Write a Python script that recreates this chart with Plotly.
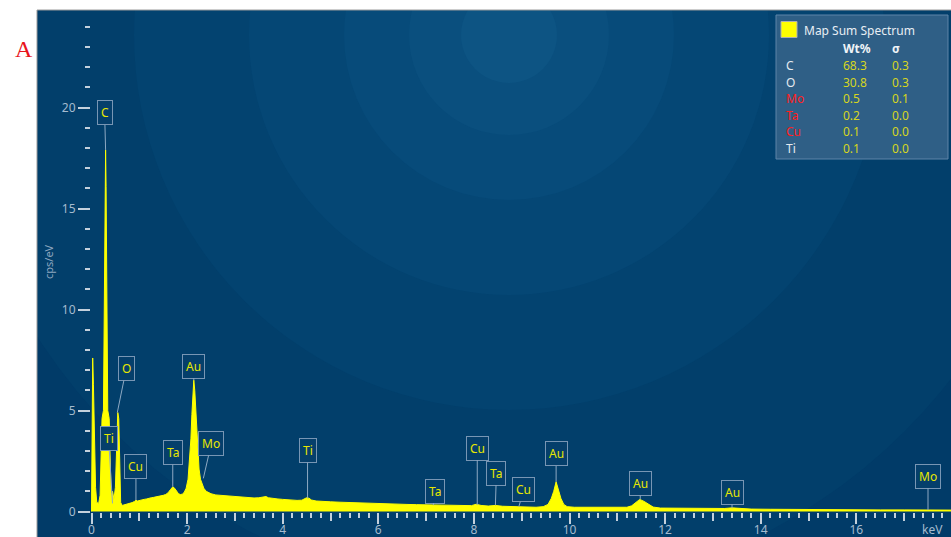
import plotly.graph_objects as go

# ---------------- data ----------------
energy_kev = [
    0.00, 0.01, 0.025, 0.04, 0.06, 0.085, 0.11, 0.15, 0.18, 0.20, 0.22, 0.25,
    0.27, 0.285, 0.295, 0.305, 0.32, 0.34, 0.37, 0.39, 0.41, 0.44, 0.47, 0.50,
    0.53, 0.55, 0.57, 0.59, 0.61, 0.64, 0.68, 0.75, 0.80, 0.85, 0.90, 0.93,
    0.96, 1.00, 1.05, 1.10, 1.15, 1.20, 1.25, 1.30, 1.35, 1.40, 1.45, 1.50,
    1.55, 1.60, 1.65, 1.70, 1.74, 1.78, 1.82, 1.86, 1.90, 1.94, 1.98, 2.02,
    2.05, 2.08, 2.10, 2.12, 2.14, 2.16, 2.18, 2.20, 2.22, 2.25, 2.28, 2.31,
    2.35, 2.40, 2.45, 2.50, 2.60, 2.70, 2.80, 2.90, 3.00, 3.10, 3.20, 3.30,
    3.40, 3.50, 3.60, 3.65, 3.70, 3.80, 3.90, 4.00, 4.10, 4.20, 4.30, 4.40,
    4.45, 4.50, 4.55, 4.60, 4.70, 4.80, 5.00, 5.20, 5.40, 5.60, 5.80, 6.00,
    6.20, 6.40, 6.60, 6.80, 7.00, 7.20, 7.40, 7.60, 7.80, 7.95, 8.05, 8.15,
    8.30, 8.45, 8.60, 8.80, 8.95, 9.10, 9.30, 9.45, 9.55, 9.62, 9.67, 9.72,
    9.77, 9.82, 9.88, 9.95, 10.10, 10.40, 10.70, 11.00, 11.20, 11.30, 11.38,
    11.47, 11.56, 11.65, 11.75, 11.90, 12.20, 12.60, 13.00, 13.25, 13.40,
    13.55, 13.80, 14.20, 14.60, 15.00, 15.50, 16.00, 16.50, 17.00, 17.40,
    17.50, 17.60, 18.00,
]
counts_cps = [
    0.00, 3.50, 7.60, 6.30, 3.50, 1.20, 0.45, 0.40, 0.80, 3.00, 4.60, 5.00,
    11.80, 16.10, 17.90, 16.10, 11.80, 5.00, 4.60, 2.50, 0.80, 1.00, 0.60, 1.20,
    3.00, 4.90, 4.60, 1.50, 0.45, 0.30, 0.32, 0.36, 0.40, 0.44, 0.50, 0.56,
    0.52, 0.55, 0.58, 0.60, 0.62, 0.66, 0.68, 0.70, 0.72, 0.75, 0.78, 0.80,
    0.84, 0.92, 1.08, 1.22, 1.15, 1.00, 0.88, 0.84, 0.86, 0.95, 1.15, 1.60,
    2.50, 3.60, 4.80, 5.90, 6.50, 6.00, 5.00, 3.90, 3.00, 2.10, 1.60, 1.35,
    1.15, 1.00, 0.92, 0.88, 0.82, 0.80, 0.76, 0.75, 0.72, 0.70, 0.70, 0.68,
    0.67, 0.68, 0.72, 0.74, 0.68, 0.64, 0.62, 0.60, 0.58, 0.57, 0.55, 0.56,
    0.62, 0.68, 0.66, 0.57, 0.52, 0.50, 0.48, 0.46, 0.44, 0.42, 0.41, 0.40,
    0.38, 0.37, 0.35, 0.34, 0.33, 0.32, 0.31, 0.30, 0.29, 0.29, 0.36, 0.30,
    0.27, 0.30, 0.26, 0.24, 0.26, 0.22, 0.21, 0.24, 0.35, 0.65, 1.00, 1.47,
    1.10, 0.65, 0.35, 0.24, 0.21, 0.20, 0.19, 0.19, 0.21, 0.28, 0.42,
    0.60, 0.50, 0.35, 0.22, 0.17, 0.16, 0.15, 0.14, 0.15, 0.18,
    0.15, 0.12, 0.11, 0.10, 0.10, 0.09, 0.09, 0.08, 0.08, 0.08,
    0.10, 0.08, 0.07,
]

peak_elements = ["C", "O", "Ti", "Cu", "Ta", "Au", "Mo", "Ti", "Ta", "Cu",
                 "Ta", "Cu", "Au", "Au", "Au", "Mo"]
peak_energy = [0.295, 0.54, 0.44, 0.93, 1.70, 2.14, 2.34, 4.52, 7.15, 8.07,
               8.45, 8.94, 9.72, 11.48, 13.40, 17.50]
peak_tip = [17.9, 4.9, 0.4, 0.57, 1.23, 6.5, 1.64, 0.65, 0.32, 0.32,
            0.32, 0.24, 1.47, 0.60, 0.16, 0.07]

x_major_ticks = [0, 2, 4, 6, 8, 10, 12, 14, 16]
x_mid_ticks = [1, 3, 5, 7, 9, 11, 13, 15, 17]
y_major_ticks = [0, 5, 10, 15, 20]

legend_elements = ["C", "O", "Mo", "Ta", "Cu", "Ti"]
legend_wt = ["68.3", "30.8", "0.5", "0.2", "0.1", "0.1"]
legend_sigma = ["0.3", "0.3", "0.1", "0.0", "0.0", "0.0"]
legend_flagged = [False, False, True, True, True, False]

# ---------------- geometry / style ----------------
W, H = 951, 537
L, T = 37, 10
PW, PH = W - L, H - T
X0PX, KEVPX = 91.5, 47.8
Y0PX, UNITPX = 511.5, 20.2


def data_x(px):
    return (px - X0PX) / KEVPX


def data_y(py):
    return (Y0PX - py) / UNITPX


def paper_x(px):
    return (px - L) / PW


def paper_y(py):
    return (H - py) / PH


x_range = [data_x(L), data_x(W)]
y_range = [data_y(H), data_y(T)]

x_minor = [round(0.2 * i, 1) for i in range(0, 90)]
y_minor = list(range(0, 25))

TICKC = "#c3d0dc"
LABC = "#a5bbcf"
FONT = "Noto Sans"
YEL = "#ffff00"

fig = go.Figure()

fig.add_trace(go.Scatter(
    x=energy_kev, y=counts_cps, mode="lines",
    line=dict(color=YEL, width=1), fill="tozeroy", fillcolor=YEL,
    hoverinfo="skip", showlegend=False,
))
fig.add_trace(go.Scatter(x=[], y=[], xaxis="x2", yaxis="y", showlegend=False))

# background rings (radial bands) centred near the top middle
ring_center = (509, 35)
ring_radii = [560, 375, 260, 165, 100, 48]
ring_colors = ["#023f6b", "#034370", "#054775", "#074b7a", "#0a4f7e", "#0d5483"]
shapes = []
for r, c in zip(ring_radii, ring_colors):
    cx, cy = ring_center
    shapes.append(dict(
        type="circle", xref="x", yref="y", layer="below",
        x0=data_x(cx - r), x1=data_x(cx + r),
        y0=data_y(cy + r), y1=data_y(cy - r),
        fillcolor=c, line=dict(width=0),
    ))

# panel frame
shapes.append(dict(type="rect", xref="paper", yref="paper", x0=0, x1=1.002,
                   y0=-0.002, y1=1, line=dict(color="#9a9a9a", width=1),
                   layer="above"))

# legend box
shapes.append(dict(type="rect", xref="paper", yref="paper",
                   x0=paper_x(776), x1=paper_x(948), y0=paper_y(159), y1=paper_y(15),
                   fillcolor="#2f5f86", line=dict(color="#5f85a8", width=1),
                   layer="above"))
shapes.append(dict(type="rect", xref="paper", yref="paper",
                   x0=paper_x(781), x1=paper_x(797), y0=paper_y(37.5), y1=paper_y(21.5),
                   fillcolor=YEL, line=dict(color="#b0b0b0", width=1),
                   layer="above"))

annotations = []
# peak callouts
box_dx = [-1, 9, -4, 0, 0, 0, 8, 0, 2, 0, 1, 5, 0, 0, 0, 0]
box_dy = [-37, -44, -65, -33, -34, -14, -35, -48, -14, -57, -32, -17, -28, -16, -16, -34]
for el, e, tip, dx, dy in zip(peak_elements, peak_energy, peak_tip, box_dx, box_dy):
    annotations.append(dict(
        x=e, y=tip, xref="x", yref="y", text=el, showarrow=True,
        ax=dx, ay=dy, arrowhead=0, arrowwidth=1, arrowcolor="#8ea9c3",
        standoff=0, startstandoff=0,
        font=dict(family=FONT, size=12, color="#e8e800"),
        bgcolor="#053f6b", bordercolor="#7896b4", borderwidth=1, borderpad=3,
    ))


def txt(px, py, text, color, size=12, family=FONT, xanchor="left", angle=0):
    return dict(x=paper_x(px), y=paper_y(py), xref="paper", yref="paper",
                text=text, showarrow=False, xanchor=xanchor, yanchor="middle",
                textangle=angle, font=dict(family=family, size=size, color=color))


# legend texts
annotations.append(txt(802, 30, "Map Sum Spectrum", "#e8eef4"))
annotations.append(txt(841, 49, "<b>Wt%</b>", "#f0f4f8"))
annotations.append(txt(890, 49, "<b>σ</b>", "#f0f4f8"))
for i, (el, wt, sg, fl) in enumerate(zip(legend_elements, legend_wt, legend_sigma, legend_flagged)):
    yy = 66 + i * 16.4
    annotations.append(txt(784, yy, el, "#ff2020" if fl else "#e4eaf0"))
    annotations.append(txt(841, yy, wt, "#d6d61e"))
    annotations.append(txt(890, yy, sg, "#d6d61e"))

# axis title, unit, panel letter
annotations.append(txt(48, 262, "cps/eV", "#8fa8c0", size=11, xanchor="center", angle=-90))
annotations.append(txt(932, 529, "keV", LABC, xanchor="center"))
annotations.append(txt(24, 49, "A", "#e8141c", size=24, family="Liberation Serif",
                       xanchor="center"))

xpos = paper_y(Y0PX)
ypos = paper_x(90)

fig.update_layout(
    width=W, height=H, autosize=False,
    margin=dict(l=L, r=0, t=T, b=0, pad=0, autoexpand=False),
    paper_bgcolor="white", plot_bgcolor="#013b68",
    showlegend=False,
    shapes=shapes, annotations=annotations,
    xaxis=dict(
        range=x_range, anchor="free", position=xpos, automargin=False,
        showgrid=False, zeroline=False, showline=False,
        tickmode="array", tickvals=x_major_ticks,
        ticktext=[str(v) for v in x_major_ticks],
        ticks="outside", ticklen=11, tickwidth=2, tickcolor=TICKC,
        ticklabelstandoff=-4,
        tickfont=dict(family=FONT, size=12, color=LABC),
        minor=dict(tickmode="array", tickvals=x_minor, ticks="outside",
                   ticklen=5, tickwidth=2, tickcolor=TICKC),
        fixedrange=True,
    ),
    xaxis2=dict(
        range=x_range, overlaying="x", anchor="free", position=xpos, automargin=False,
        showgrid=False, zeroline=False, showline=False,
        tickmode="array", tickvals=x_mid_ticks, showticklabels=False,
        ticks="outside", ticklen=8, tickwidth=2, tickcolor=TICKC,
    ),
    yaxis=dict(
        range=y_range, anchor="free", position=ypos, automargin=False,
        showgrid=False, zeroline=False, showline=False,
        tickmode="array", tickvals=y_major_ticks,
        ticktext=[str(v) for v in y_major_ticks],
        ticks="outside", ticklen=12, tickwidth=2, tickcolor=TICKC,
        tickfont=dict(family=FONT, size=12, color=LABC),
        minor=dict(tickmode="array", tickvals=y_minor, ticks="outside",
                   ticklen=5, tickwidth=2, tickcolor=TICKC),
        fixedrange=True,
    ),
)

fig.write_html(
    "out.html",
    config={"displayModeBar": False},
    post_script="document.body.style.margin='0';document.body.style.overflow='hidden';",
)
